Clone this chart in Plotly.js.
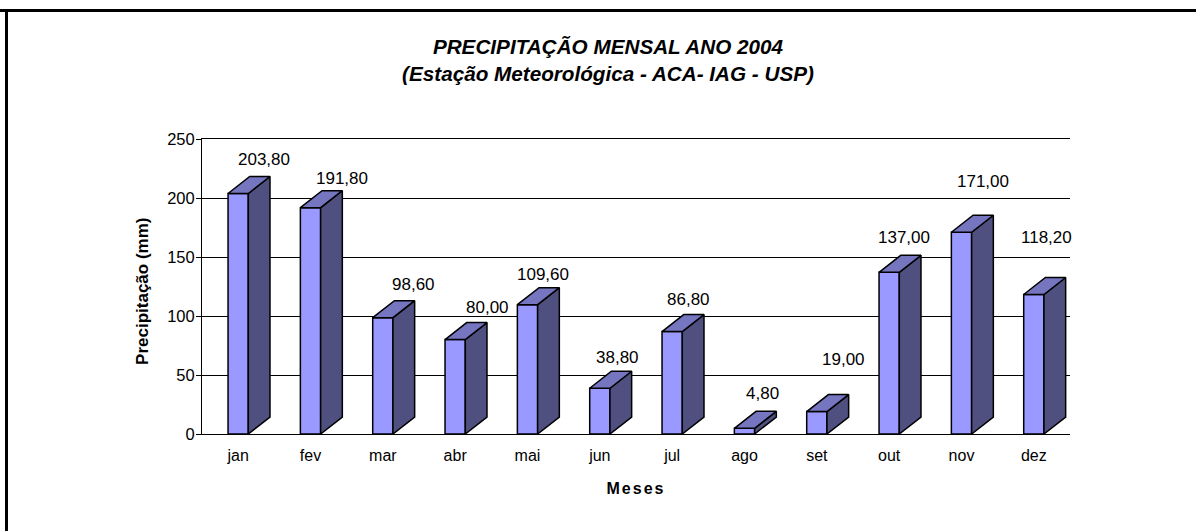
<!DOCTYPE html>
<html lang="pt">
<head>
<meta charset="utf-8">
<title>Precipitação mensal 2004</title>
<script src="https://cdn.plot.ly/plotly-3.0.1.min.js"></script>
<style>
  html, body { margin: 0; padding: 0; background: #fff; }
  #chart { width: 1196px; height: 531px; }
  .xtitle { letter-spacing: 2px; }
</style>
</head>
<body>
<div id="chart"></div>
<script>
// Monthly rainfall, station ACA-IAG-USP, 2004
const months = ['jan', 'fev', 'mar', 'abr', 'mai', 'jun', 'jul', 'ago', 'set', 'out', 'nov', 'dez'];
const rainfall = [203.8, 191.8, 98.6, 80.0, 109.6, 38.8, 86.8, 4.8, 19.0, 137.0, 171.0, 118.2];

// Label placement relative to the top-centre of each bar, in pixels
const labelShiftX = [26, 31.5, 31, 32, 15.5, 18, 16.5, 17.5, 27, 15, 21.5, 13];
const labelShiftY = [34.5, 28.7, 32.7, 32.6, 29.7, 31.2, 31.6, 35.3, 51.6, 35.3, 51.2, 57.5];

// Bar proportions and fake-3D extrusion, in axis units
const barWidth = 0.28;
const depthX = 0.30;
const depthY = 14.4;

const FRONT = '#9999FF', SIDE = '#4F4F80', TOP = '#7575C0';
const FONT = '"Liberation Sans", Arial, sans-serif';

const idx = months.map((_, i) => i);
const sideX = [], sideY = [], topX = [], topY = [];
idx.forEach(i => {
  const r = i + barWidth / 2, l = i - barWidth / 2, v = rainfall[i];
  sideX.push(r, r + depthX, r + depthX, r, r, null);
  sideY.push(0, depthY, v + depthY, v, 0, null);
  topX.push(l, l + depthX, r + depthX, r, l, null);
  topY.push(v, v + depthY, v + depthY, v, v, null);
});

const edge = { color: '#000', width: 1.5 };
const traces = [
  { type: 'bar', x: idx, y: rainfall, width: barWidth,
    marker: { color: FRONT, line: edge }, hoverinfo: 'skip' },
  { type: 'scatter', mode: 'lines', x: sideX, y: sideY, fill: 'toself',
    fillcolor: SIDE, line: edge, hoverinfo: 'skip' },
  { type: 'scatter', mode: 'lines', x: topX, y: topY, fill: 'toself',
    fillcolor: TOP, line: edge, hoverinfo: 'skip' }
];

const W = 1196, H = 531;
const M = { l: 202, r: 126, t: 139, b: 97 };
const plotW = W - M.l - M.r, plotH = H - M.t - M.b;
const px = x => (x - M.l) / plotW;
const py = y => 1 - (y - M.t) / plotH;

const annotations = idx.map(i => ({
  x: i, y: rainfall[i], xref: 'x', yref: 'y', showarrow: false,
  text: rainfall[i].toFixed(2).replace('.', ','),
  xshift: labelShiftX[i], yshift: labelShiftY[i],
  font: { family: FONT, size: 17, color: '#000' }
}));

const layout = {
  width: W, height: H, margin: M, showlegend: false,
  paper_bgcolor: '#fff', plot_bgcolor: '#fff',
  title: {
    text: 'PRECIPITAÇÃO MENSAL ANO 2004<br>(Estação Meteorológica - ACA- IAG - USP)',
    font: { family: FONT, size: 20.7, color: '#000', weight: 'bold', style: 'italic' },
    x: 608 / W, xanchor: 'center', y: 1 - 54 / H, yanchor: 'middle'
  },
  xaxis: {
    range: [-0.5, 11.5], tickmode: 'array', tickvals: idx, ticktext: months,
    ticks: '', ticklabelstandoff: 7, showgrid: false, zeroline: false,
    showline: true, mirror: true, linecolor: '#000', linewidth: 1,
    tickfont: { family: FONT, size: 16, color: '#000' },
    title: { text: '<b>Meses</b>', standoff: 19, font: { family: FONT, size: 16, color: '#000' } }
  },
  yaxis: {
    range: [0, 250], tickvals: [0, 50, 100, 150, 200, 250],
    ticks: 'outside', ticklen: 5, tickcolor: '#000', tickwidth: 1, ticklabelstandoff: -2,
    showgrid: true, gridcolor: '#000', gridwidth: 1, zeroline: false,
    showline: true, linecolor: '#000', linewidth: 1,
    tickfont: { family: FONT, size: 16.5, color: '#000' },
    title: { text: '<b>Precipitação (mm)&nbsp;&nbsp;</b>', standoff: 14, font: { family: FONT, size: 17, color: '#000' } }
  },
  annotations,
  // Page frame: only the top and left rules are drawn
  shapes: [
    { type: 'line', xref: 'paper', yref: 'paper', x0: px(0), x1: px(W), y0: py(10.5), y1: py(10.5),
      line: { color: '#000', width: 3 } },
    { type: 'line', xref: 'paper', yref: 'paper', x0: px(6.5), x1: px(6.5), y0: py(9), y1: py(H),
      line: { color: '#000', width: 3 } }
  ]
};

Plotly.newPlot('chart', traces, layout, { displayModeBar: false, staticPlot: true });
</script>
</body>
</html>
